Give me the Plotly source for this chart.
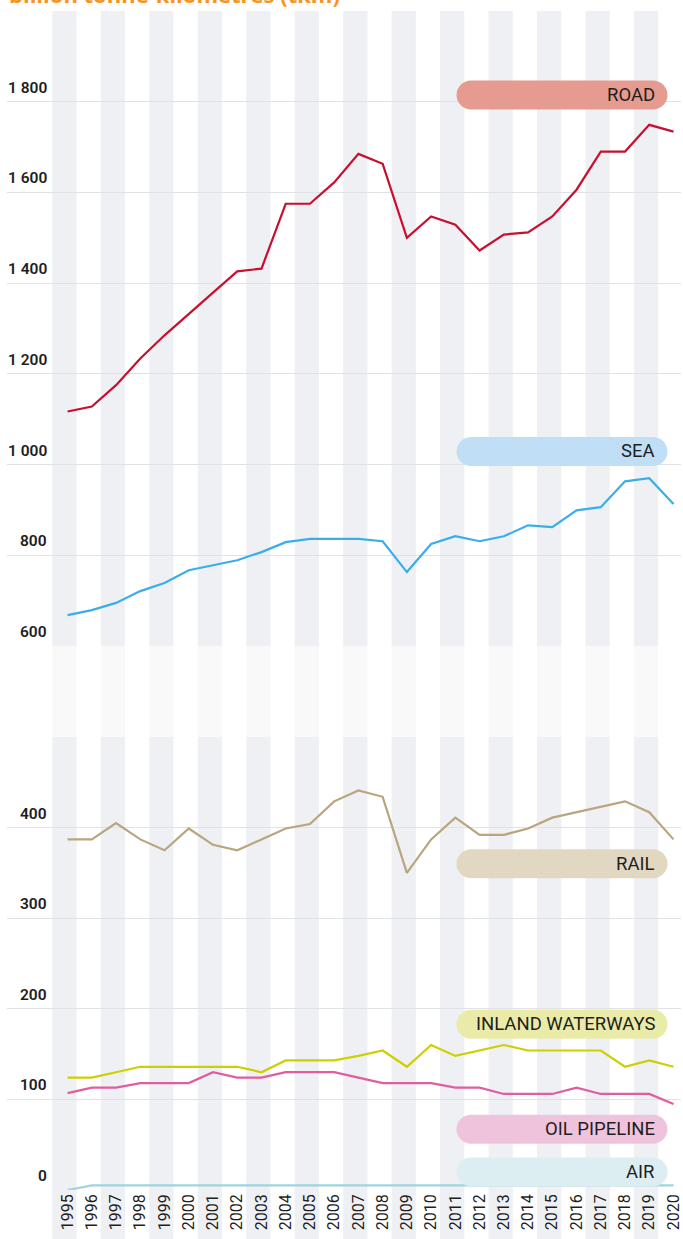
import plotly.graph_objects as go

years = list(range(1995, 2021))

road = [1117, 1128, 1175, 1234, 1285, 1331, 1379, 1426, 1432, 1575, 1575, 1622, 1685, 1663,
        1500, 1547, 1529, 1472, 1507, 1512, 1547, 1606, 1690, 1690, 1749, 1734]
sea = [668, 679, 695, 721, 739, 767, 778, 789, 807, 829, 836, 836, 836, 831,
       763, 825, 842, 831, 842, 866, 862, 899, 906, 963, 970, 913]
rail = [387, 387, 405, 387, 375, 399, 381, 375, 387, 399, 404, 429, 441, 434,
        350, 387, 411, 392, 392, 399, 411, 417, 423, 429, 417, 387]
inland = [124, 124, 130, 136, 136, 136, 136, 136, 130, 143, 143, 143, 148, 154,
          136, 160, 148, 154, 160, 154, 154, 154, 154, 136, 143, 136]
oil = [107, 113, 113, 118, 118, 118, 130, 124, 124, 130, 130, 130, 124, 118,
       118, 118, 113, 113, 106, 106, 106, 113, 106, 106, 106, 95]
air = [0, 5, 5, 5, 5, 5, 5, 5, 5, 5, 5, 5, 5, 5,
       5, 5, 5, 5, 5, 5, 5, 5, 5, 5, 5, 5]

top_ticks = [600, 800, 1000, 1200, 1400, 1600, 1800, 2000]
top_labels = ["600", "800", "1 000", "1 200", "1 400", "1 600", "1 800", ""]
bottom_ticks = [0, 100, 200, 300, 400, 500]
bottom_labels = ["0", "100", "200", "300", "400", ""]

title_text = "billion tonne-kilometres (tkm)"

# series: (name, values, line colour, pill colour, axis, pill centre value)
series = [
    ("ROAD", road, "#c8102e", "#e59b90", "y2", 1815),
    ("SEA", sea, "#3aaee8", "#c0def5", "y2", 1029),
    ("RAIL", rail, "#b9a57e", "#e2d8c2", "y", 360),
    ("INLAND WATERWAYS", inland, "#cdd000", "#eaeba8", "y", 183),
    ("OIL PIPELINE", oil, "#e05d9f", "#f0c3dd", "y", 67),
    ("AIR", air, "#9fd3df", "#ddeef3", "y", 20),
]

W, H = 683, 1239
ML, MR, MT, MB = 7, 0, 11, 49
plot_h = H - MT - MB
bottom_dom = [0, 453 / plot_h]
top_dom = [544 / plot_h, 1]

fig = go.Figure()

for name, vals, lc, pc, ax, py in series:
    fig.add_trace(go.Scatter(x=years, y=vals, mode="lines", name=name,
                             line=dict(color=lc, width=2.2), yaxis=ax,
                             showlegend=False, hoverinfo="x+y+name"))

shapes = []
# alternating year stripes
for yr in years[::2]:
    shapes.append(dict(type="rect", xref="x", yref="paper", x0=yr - 0.63, x1=yr + 0.37,
                       y0=-MB / plot_h, y1=1, fillcolor="#eff0f3", line=dict(width=0),
                       layer="below"))
# faded break band
shapes.append(dict(type="rect", xref="paper", yref="paper", x0=0, x1=1,
                   y0=bottom_dom[1], y1=top_dom[0], fillcolor="rgba(255,255,255,0.6)",
                   line=dict(width=0), layer="below"))

annotations = []
# pills
L, R, h = -217, -6, 14.5
r = h
k = 0.5523 * r
pill_path = (f"M {L + r},{-h} L {R - r},{-h} C {R - r + k},{-h} {R},{-k} {R},0 "
             f"C {R},{k} {R - r + k},{h} {R - r},{h} L {L + r},{h} "
             f"C {L + r - k},{h} {L},{k} {L},0 C {L},{-k} {L + r - k},{-h} {L + r},{-h} Z")
for name, vals, lc, pc, ax, py in series:
    shapes.append(dict(type="path", xref="x", yref=ax, xsizemode="pixel", ysizemode="pixel",
                       xanchor=2020, yanchor=py, path=pill_path, fillcolor=pc,
                       line=dict(width=0), layer="above"))
    annotations.append(dict(xref="x", yref=ax, x=2020, y=py, xanchor="right", yanchor="middle",
                            xshift=-16, text=name, showarrow=False,
                            font=dict(family="Roboto", size=18.5, color="#1e1e1e")))

# y tick labels
lab_x = (49 - ML) / (W - ML - MR)
for ticks, labels, ax in [(top_ticks, top_labels, "y2"), (bottom_ticks, bottom_labels, "y")]:
    for t, lab in zip(ticks, labels):
        if not lab:
            continue
        annotations.append(dict(xref="paper", yref=ax, x=lab_x, y=t, xanchor="right",
                                yanchor="bottom", yshift=3, text=lab, showarrow=False,
                                font=dict(family="Roboto", size=15.5, color="#1e1e1e", weight=600)))

# title (cut at top)
annotations.append(dict(xref="paper", yref="paper", x=0, y=1, xanchor="left", yanchor="bottom",
                        yshift=0, text=title_text, showarrow=False,
                        font=dict(family="Open Sans", size=22, color="#f7931e", weight=700)))

grid = "#e1e2e6"
fig.update_layout(
    width=W, height=H,
    margin=dict(l=ML, r=MR, t=MT, b=MB),
    paper_bgcolor="white", plot_bgcolor="rgba(0,0,0,0)",
    xaxis=dict(range=[1992.5, 2020.31], tickmode="array", tickvals=years,
               ticktext=[str(y) for y in years], tickangle=-90, showgrid=False,
               zeroline=False, showline=False, ticks="", ticklabeloverflow="allow",
               tickfont=dict(family="Roboto", size=16, color="#1e1e1e"), anchor="y"),
    yaxis=dict(domain=bottom_dom, range=[0, 500], tickmode="array", tickvals=bottom_ticks,
               showticklabels=False, showgrid=True, gridcolor=grid, gridwidth=1,
               zeroline=False, showline=False),
    yaxis2=dict(domain=top_dom, range=[600, 2000], tickmode="array", tickvals=top_ticks,
                showticklabels=False, showgrid=True, gridcolor=grid, gridwidth=1,
                zeroline=False, showline=False, anchor="x"),
    shapes=shapes,
    annotations=annotations,
)

fig.write_html("out.html", config={"displayModeBar": False},
               post_script="document.body.style.margin='0';document.body.style.overflow='hidden';")
